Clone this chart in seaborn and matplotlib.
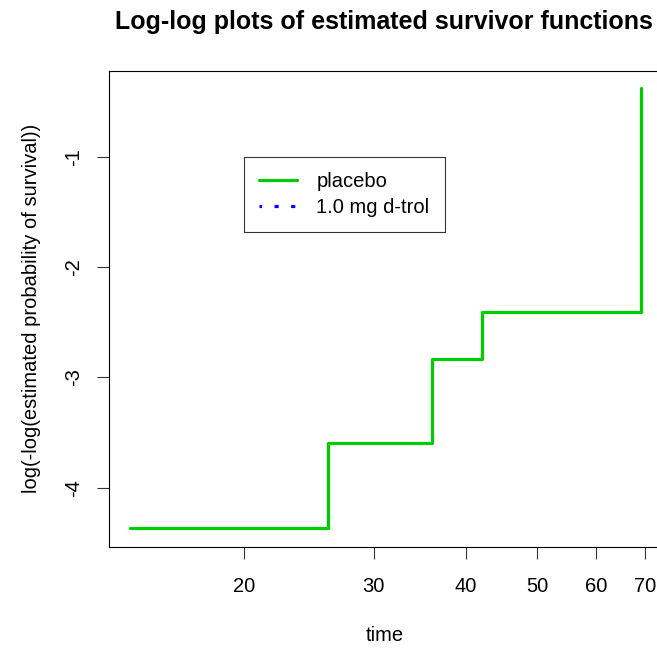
import matplotlib
matplotlib.use("Agg")
import matplotlib.pyplot as plt
import seaborn as sns
import pandas as pd
from matplotlib.lines import Line2D

# placebo group: step points (time, log(-log(S)))
placebo_time = [14, 26, 36, 42, 69]
placebo_loglog = [-4.369, -3.596, -2.833, -2.405, -0.378]

xticks = [20, 30, 40, 50, 60, 70]
yticks = [-1, -2, -3, -4]

sns.set_style("white")
plt.rcParams['font.family'] = ['Liberation Sans', 'DejaVu Sans']
plt.rcParams['text.color'] = 'black'
plt.rcParams['axes.labelcolor'] = 'black'

df = pd.DataFrame({'time': placebo_time, 'loglog': placebo_loglog})

fig = plt.figure(figsize=(6.57, 6.48), dpi=100)
ax = fig.add_axes([0.1659, 0.1563, 1.006 - 0.1659, 0.8909 - 0.1563])

sns.lineplot(data=df, x='time', y='loglog', ax=ax, color='#00CD00',
             linewidth=2.3, drawstyle='steps-post', estimator=None, sort=False)

ax.set_xscale('log')
ax.set_xlim(13.13, 73.5)
ax.set_ylim(-4.536, -0.218)
ax.set_xticks(xticks)
ax.set_xticklabels([str(t) for t in xticks])
ax.minorticks_off()
ax.set_yticks(yticks)
ax.set_yticklabels([str(t) for t in yticks], rotation=90, va='center')

for s in ax.spines.values():
    s.set_color('black')
    s.set_linewidth(0.8)
    s.set_visible(True)

ax.tick_params(axis='both', direction='out', length=8.5, width=0.8, color='#333333',
               labelsize=14.5, labelcolor='black', bottom=True, left=True)
ax.tick_params(axis='x', pad=13)
ax.tick_params(axis='y', pad=10)

ax.set_xlabel('time', fontsize=14.5, labelpad=22)
ax.set_ylabel('log(-log(estimated probability of survival))', fontsize=14.5, labelpad=17)
fig.text(0.584, 0.966, 'Log-log plots of estimated survivor functions',
         ha='center', va='center', fontsize=18, fontweight='bold', color='black')

handles = [Line2D([], [], color='#00CD00', lw=2.3),
           Line2D([], [], color='blue', lw=2.3, ls=(0.5, (1.3, 3.9)))]
leg = ax.legend(handles, ['placebo', '1.0 mg d-trol'], loc='upper left',
                bbox_to_anchor=((244 - 109) / 552, 1 - (157 - 70.7) / 476),
                frameon=True, fancybox=False, fontsize=14.5, borderaxespad=0,
                handlelength=1.9, handletextpad=0.95, borderpad=0.75,
                labelspacing=0.35)
leg.get_frame().set_edgecolor('black')
leg.get_frame().set_linewidth(0.8)

fig.savefig('out.png', dpi=100)
